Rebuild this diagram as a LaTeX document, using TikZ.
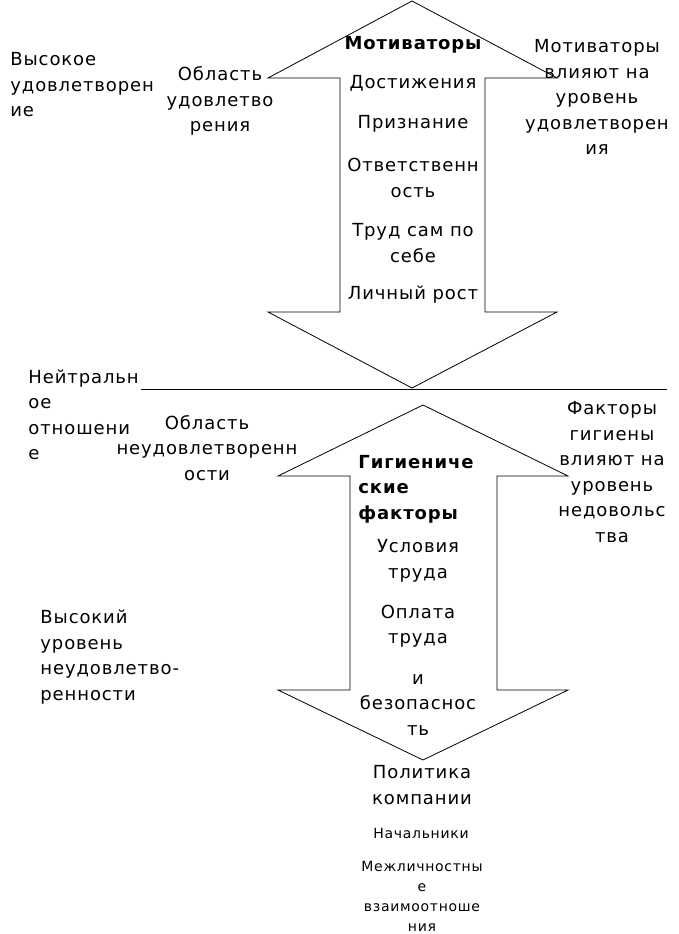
\documentclass[tikz,border=0pt]{standalone}
\usepackage{fontspec}
\setmainfont[LetterSpace=5]{DejaVu Sans}
\usetikzlibrary{positioning}
\newcommand{\txtbig}{\fontsize{18}{25.5}\selectfont}
\newcommand{\txtsmall}{\fontsize{14}{20}\selectfont}

\begin{document}
\begin{tikzpicture}[x=1pt,y=-1pt,line width=0.8pt,
   lbl/.style={font=\txtbig,align=center,inner sep=0pt},
   lblleft/.style={font=\txtbig,align=left,inner sep=0pt,anchor=west},
   lblsmall/.style={font=\txtsmall,align=center,inner sep=0pt}]
 \useasboundingbox (0,0) rectangle (679,934);
 % double arrow of the motivators
 \draw (412,1) -- (557,78) -- (485,78) -- (485,312) -- (557,312) -- (412,388)
   -- (268,312) -- (340,312) -- (340,78) -- (268,78) -- cycle;
 % double arrow of the hygiene factors
 \draw (423,405) -- (568,476) -- (497,476) -- (497,690) -- (568,690) -- (423,760)
   -- (278,690) -- (350,690) -- (350,476) -- (278,476) -- cycle;
 % neutral line
 \coordinate (neutL) at (141,389);
 \coordinate (neutR) at (667,389);
 \draw (neutL) -- (neutR);
 % left side
 \node[lblleft] (hisat) at (10,85) {Высокое\\удовлетворен\\ие};
 \node[lbl] (satarea) at (220,101) {Область\\удовлетво\\рения};
 \node[lblleft] (neutral) at (28,415) {Нейтральн\\ое\\отношени\\е};
 \node[lbl] (dissatarea) at (207,448) {Область\\неудовлетворенн\\ости};
 \node[lblleft] (hidissat) at (40,657) {Высокий\\уровень\\неудовлетво-\\ренности};
 % motivators
 \node[lbl,font=\txtbig\bfseries] (motiv) at (413,45) {Мотиваторы};
 \node[lbl] (achieve) at (413,83) {Достижения};
 \node[lbl] (recog) at (413,124) {Признание};
 \node[lbl] (respons) at (413,178) {Ответственн\\ость};
 \node[lbl] (work) at (413,243) {Труд сам по\\себе};
 \node[lbl] (growth) at (413,295) {Личный рост};
 % hygiene factors
 \node[lblleft,font=\txtbig\bfseries] (hyg) at (358,489) {Гигиениче\\ские\\факторы};
 \node[lbl] (cond) at (418,561) {Условия\\труда};
 \node[lbl] (pay) at (418,626) {Оплата\\труда};
 \node[lbl] (safety) at (418,705) {и\\безопаснос\\ть};
 \node[lbl] (policy) at (422,785) {Политика\\компании};
 \node[lblsmall] (bosses) at (421,833) {Начальники};
 \node[lblsmall] (relations) at (422,896) {Межличностны\\е\\взаимоотноше\\ния};
 % right side
 \node[lbl] (motivinfl) at (597,97) {Мотиваторы\\влияют на\\уровень\\удовлетворен\\ия};
 \node[lbl] (hyginfl) at (612,472) {Факторы\\гигиены\\влияют на\\уровень\\недовольс\\тва};
\end{tikzpicture}
\end{document}
